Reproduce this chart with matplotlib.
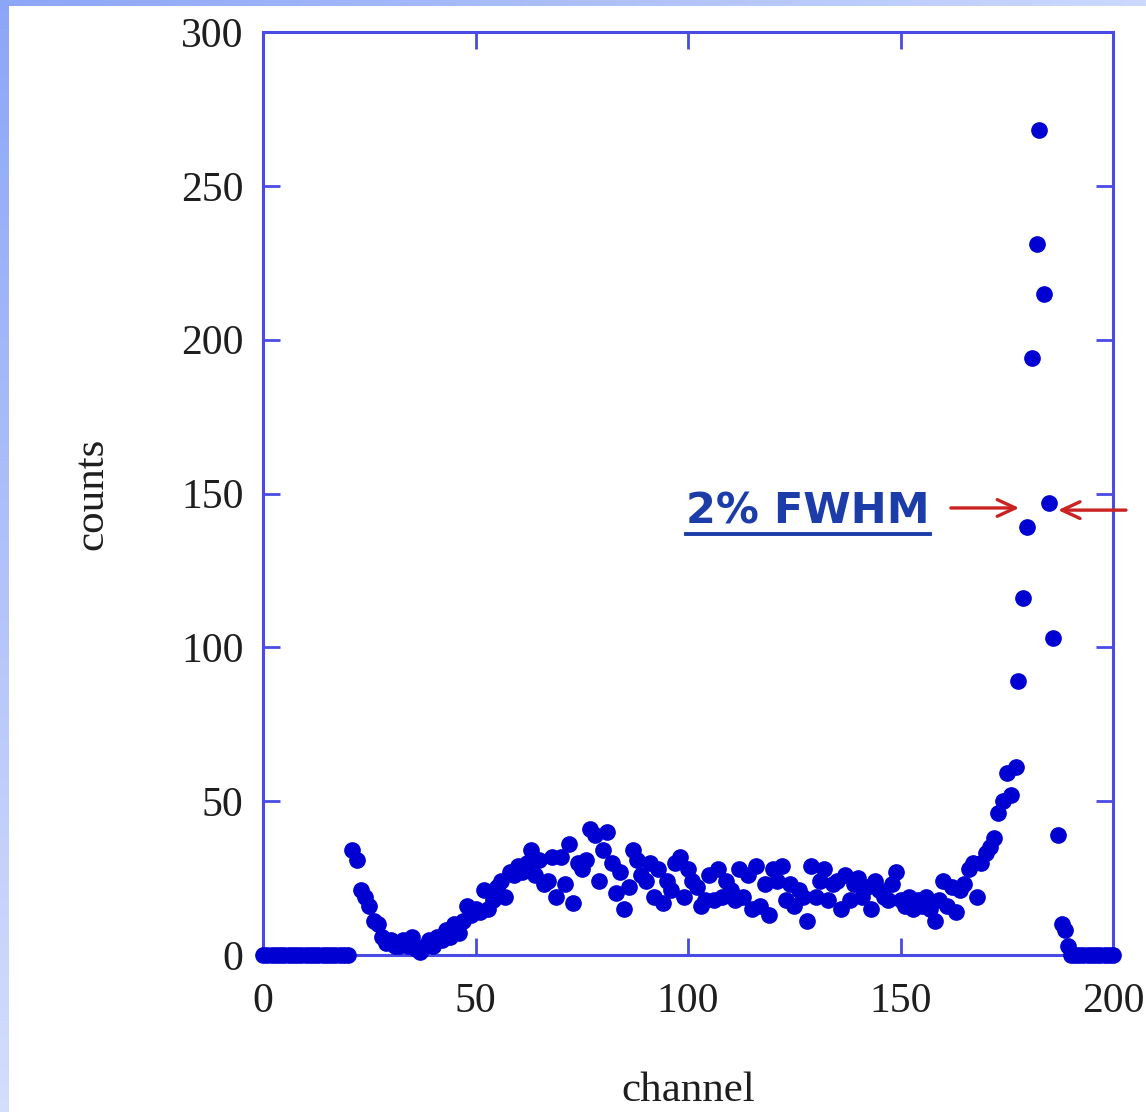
import numpy as np
import matplotlib
matplotlib.use("Agg")
import matplotlib.pyplot as plt
from matplotlib.lines import Line2D

# ---------------- data ----------------
zero_low_channels = list(range(0, 21))
body_channels = list(range(21, 177))
body_counts = [34, 31, 21, 19, 16, 11, 10, 6, 4, 5,      # 21-30
               3, 3, 5, 3, 6, 2, 1, 3, 5, 3,             # 31-40
               6, 5, 8, 6, 10, 7, 11, 16, 13, 15,        # 41-50
               14, 21, 15, 18, 22, 24, 19, 27, 26, 29,   # 51-60
               27, 30, 34, 26, 31, 23, 24, 32, 19, 32,   # 61-70
               23, 36, 17, 30, 28, 31, 41, 39, 24, 34,   # 71-80
               40, 30, 20, 27, 15, 22, 34, 31, 26, 24,   # 81-90
               30, 19, 28, 17, 24, 21, 30, 32, 19, 28,   # 91-100
               24, 22, 16, 18, 26, 18, 28, 19, 24, 21,   # 101-110
               18, 28, 19, 26, 15, 29, 16, 23, 13, 28,   # 111-120
               24, 29, 18, 23, 16, 21, 19, 11, 29, 19,   # 121-130
               24, 28, 18, 23, 24, 15, 26, 18, 23, 25,   # 131-140
               19, 22, 15, 24, 21, 19, 18, 23, 27, 18,   # 141-150
               16, 19, 15, 18, 16, 19, 15, 11, 18, 24,   # 151-160
               16, 22, 14, 21, 23, 28, 30, 19, 30, 33,   # 161-170
               35, 38, 46, 50, 59, 52]                   # 171-176
peak_channels = [177.2, 177.6, 178.8, 179.8, 180.9, 182.1, 182.6,
                 183.8, 184.9, 185.9, 187.1, 188.0, 188.7, 189.4]
peak_counts = [61, 89, 116, 139, 194, 231, 268, 215, 147, 103, 39, 10, 8, 3]
zero_high_channels = list(range(190, 201))

channels = np.array(zero_low_channels + body_channels + peak_channels + zero_high_channels, dtype=float)
counts = np.array([0] * len(zero_low_channels) + body_counts + peak_counts + [0] * len(zero_high_channels), dtype=float)

x_ticks = [0, 50, 100, 150, 200]
y_ticks = [0, 50, 100, 150, 200, 250, 300]

# ---------------- figure ----------------
W, H = 1146, 1112
fig = plt.figure(figsize=(W / 100, H / 100), dpi=100)
fig.patch.set_facecolor("white")

# slide background strips (gradient)
top = fig.add_axes([0, 1 - 6 / H, 1, 6 / H])
g = np.linspace(0, 1, 256)[None, :, None]
c0 = np.array([0.55, 0.65, 0.97]); c1 = np.array([0.80, 0.85, 0.99])
top.imshow(c0 + (c1 - c0) * g, aspect="auto", extent=[0, 1, 0, 1])
top.axis("off")
left = fig.add_axes([0, 0, 9 / W, 1])
gv = np.linspace(0, 1, 256)[:, None, None]
c2 = np.array([0.83, 0.87, 0.99])
left.imshow(c0 + (c2 - c0) * gv, aspect="auto", extent=[0, 1, 0, 1])
left.axis("off")

ax = fig.add_axes([263 / W, 1 - 955 / H, 850 / W, 923 / H])
ax.set_facecolor("white")

ax.plot(channels, counts, linestyle="none", marker="o", markersize=11,
        markerfacecolor="#0000d2", markeredgecolor="#0000d2", clip_on=False, zorder=3)

ax.set_xlim(0, 200)
ax.set_ylim(0, 300)
ax.set_xticks(x_ticks)
ax.set_yticks(y_ticks)

axis_blue = "#4a4ae6"
for s in ax.spines.values():
    s.set_color(axis_blue)
    s.set_linewidth(2.2)
ax.tick_params(direction="in", length=12, width=2, color=axis_blue,
               top=True, right=True, labelsize=30, labelcolor="#1e1e1e")
ax.tick_params(axis="x", pad=20)
ax.tick_params(axis="y", pad=14)
for lab in ax.get_xticklabels() + ax.get_yticklabels():
    lab.set_fontfamily("Liberation Serif")

ax.set_xlabel("channel", fontsize=31, fontfamily="Liberation Serif", color="#1e1e1e", labelpad=36)
ax.set_ylabel("counts", fontsize=31, fontfamily="Liberation Serif", color="#1e1e1e", labelpad=50)

# annotation text
txt = ax.text(99.5, 144.0, "2% FWHM", fontsize=31, fontweight="bold",
              fontfamily="DejaVu Sans", color="#1c3caa", ha="left", va="center")

arrow_red = "#cc2222"
ax.annotate("", xy=(178.6, 145.3), xytext=(161.2, 145.3),
            arrowprops=dict(arrowstyle="->,head_length=1.3,head_width=0.6", color=arrow_red, lw=2.4),
            annotation_clip=False)
ax.annotate("", xy=(186.4, 144.6), xytext=(203.7, 144.6),
            arrowprops=dict(arrowstyle="->,head_length=1.3,head_width=0.6", color=arrow_red, lw=2.4),
            annotation_clip=False)

# underline under the label text
fig.canvas.draw()
bb = txt.get_window_extent()
uy = bb.y0 - 1
fig.add_artist(Line2D([bb.x0 / W, bb.x1 / W], [uy / H, uy / H], color="#1c3caa", lw=2.8,
                      transform=fig.transFigure))

fig.savefig("out.png", dpi=100, facecolor=fig.get_facecolor())
